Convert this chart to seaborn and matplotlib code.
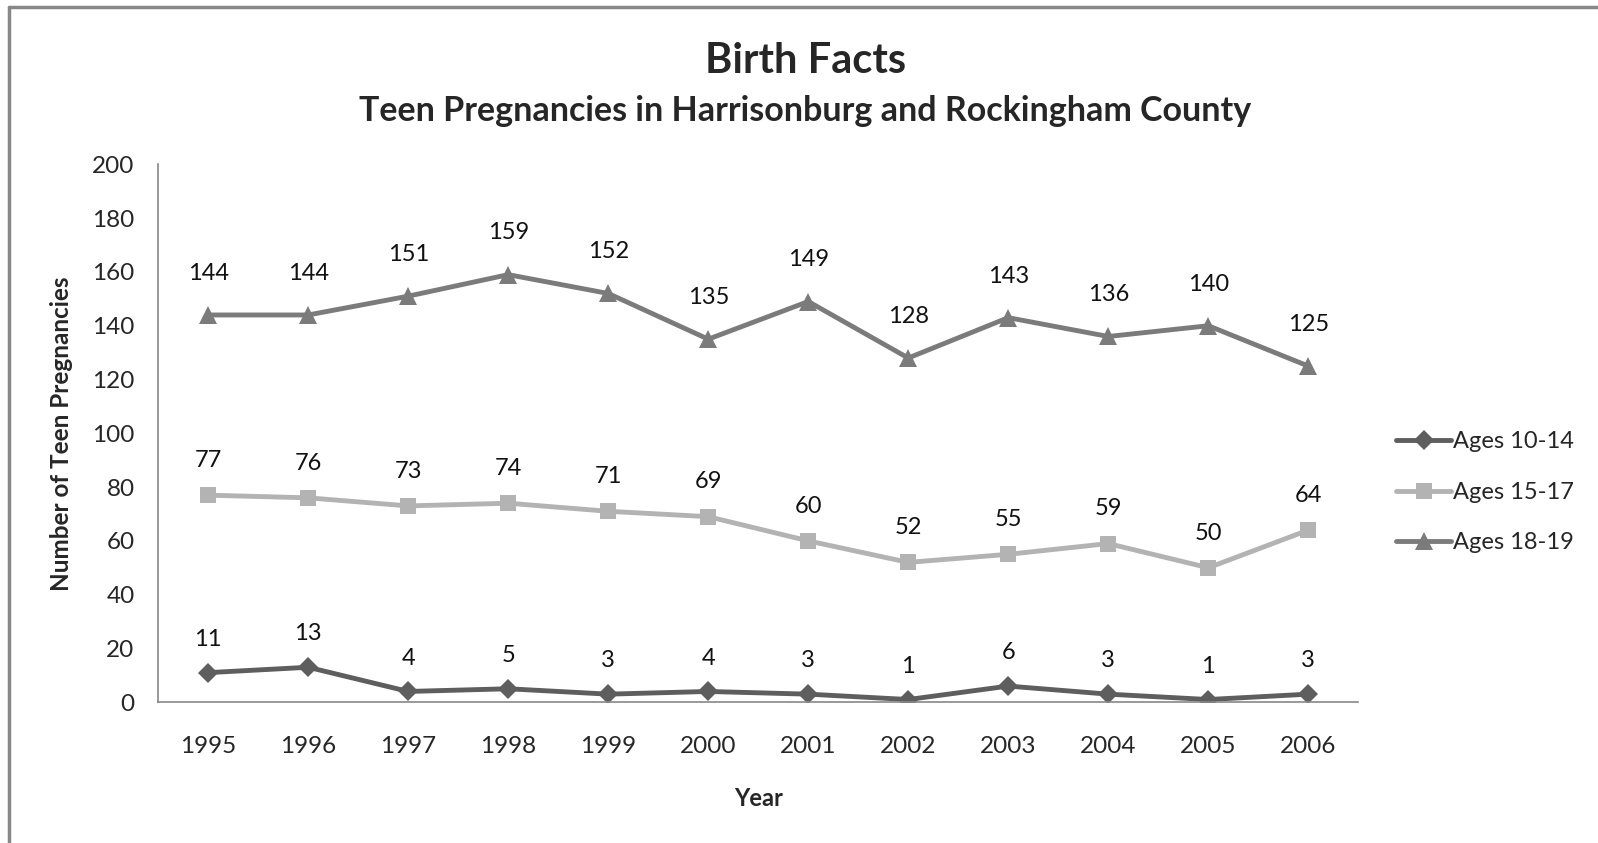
import numpy as np
import pandas as pd
import seaborn as sns
import matplotlib.pyplot as plt
from matplotlib.lines import Line2D

# chart data
years = [1995, 1996, 1997, 1998, 1999, 2000, 2001, 2002, 2003, 2004, 2005, 2006]
ages_10_14 = [11, 13, 4, 5, 3, 4, 3, 1, 6, 3, 1, 3]
ages_15_17 = [77, 76, 73, 74, 71, 69, 60, 52, 55, 59, 50, 64]
ages_18_19 = [144, 144, 151, 159, 152, 135, 149, 128, 143, 136, 140, 125]
series_names = ['Ages 10-14', 'Ages 15-17', 'Ages 18-19']

sns.set_style('white')
plt.rcParams['font.family'] = ['Lato', 'DejaVu Sans']

df = pd.DataFrame({
    'Year': years * 3,
    'Count': ages_10_14 + ages_15_17 + ages_18_19,
    'Series': [n for n in series_names for _ in years],
})

colors = {'Ages 10-14': '#5e5e5e', 'Ages 15-17': '#b3b3b3', 'Ages 18-19': '#7b7b7b'}
markers = {'Ages 10-14': 'D', 'Ages 15-17': 's', 'Ages 18-19': '^'}
msize = {'Ages 10-14': 10, 'Ages 15-17': 12, 'Ages 18-19': 13}
label_off = {'Ages 10-14': 24, 'Ages 15-17': 25, 'Ages 18-19': 30}

fig = plt.figure(figsize=(15.98, 8.43), dpi=100)
ax = fig.add_axes([0.099, 0.167, 0.751, 0.638])

for name in series_names:
    sub = df[df['Series'] == name]
    sns.lineplot(data=sub, x='Year', y='Count', ax=ax, color=colors[name],
                 marker=markers[name], markersize=msize[name], linewidth=3.5,
                 markeredgewidth=0, markerfacecolor=colors[name], legend=False)
    for x, y in zip(sub['Year'], sub['Count']):
        ax.annotate(str(y), (x, y), xytext=(0, label_off[name]), textcoords='offset points',
                    ha='center', va='center', fontsize=17, color='#111111')

ax.set_xlim(1994.5, 2006.5)
ax.set_ylim(0, 200)
ax.set_xticks(years)
ax.set_xticklabels([str(y) for y in years], fontsize=17.5)
ax.set_yticks(range(0, 201, 20))
ax.set_yticklabels([str(v) for v in range(0, 201, 20)], fontsize=17.5)
ax.tick_params(axis='x', length=0, pad=24)
ax.tick_params(axis='y', length=0, pad=17)
for s in ['top', 'right']:
    ax.spines[s].set_visible(False)
for s in ['left', 'bottom']:
    ax.spines[s].set_color('#888888')
    ax.spines[s].set_linewidth(1.2)

ax.set_xlabel('Year', fontsize=17, fontweight='bold', labelpad=22)
ax.set_ylabel('Number of Teen Pregnancies', fontsize=17.5, fontweight='bold', labelpad=14)

fig.text(0.504, 0.928, 'Birth Facts', ha='center', va='center', fontsize=30, fontweight='bold')
fig.text(0.504, 0.868, 'Teen Pregnancies in Harrisonburg and Rockingham County',
         ha='center', va='center', fontsize=24.5, fontweight='bold')

handles = [Line2D([0], [0], color=colors[n], marker=markers[n], markersize=msize[n],
                  linewidth=3.5, markeredgewidth=0) for n in series_names]
ax.legend(handles, series_names, loc='center left', bbox_to_anchor=(1.014, 0.39),
          frameon=False, fontsize=17, handlelength=2.3, handletextpad=0.1, labelspacing=1.25)

# chart frame (top and left edges)
fig.add_artist(Line2D([0.0055, 1.0], [0.992, 0.992], color='#888888', linewidth=2.5))
fig.add_artist(Line2D([0.0055, 0.0055], [0.0, 0.992], color='#888888', linewidth=2.5))

fig.savefig('out.png', dpi=100, facecolor='white')
